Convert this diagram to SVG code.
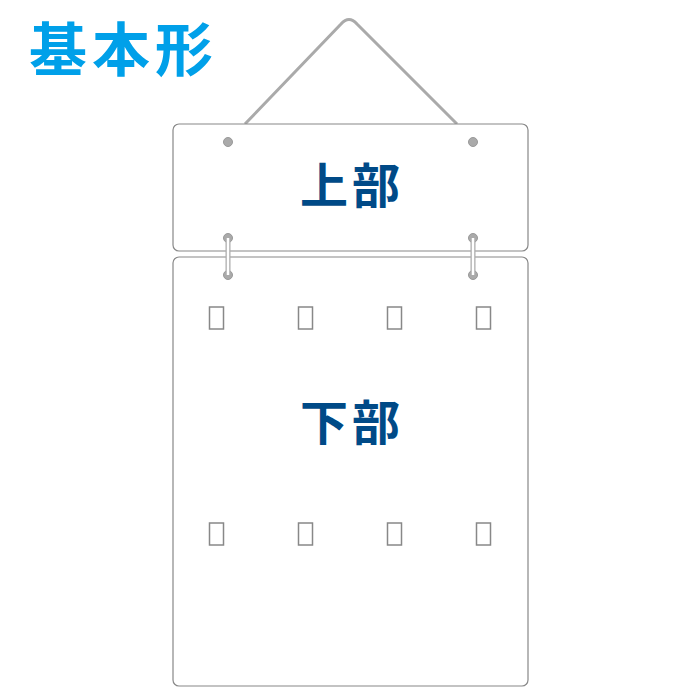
<svg xmlns="http://www.w3.org/2000/svg" width="700" height="700" viewBox="0 0 700 700">
<style>
.panel{fill:#fff;stroke:#888;stroke-width:1.2}
.hole{fill:#aaa;stroke:#999;stroke-width:1}
.box{fill:none;stroke:#888;stroke-width:1.5}
.lbl{font-family:"Noto Sans CJK JP",sans-serif;font-weight:bold;font-size:48px;fill:#004a87;text-anchor:middle;letter-spacing:4px}
.title{font-family:"Noto Sans CJK JP",sans-serif;font-weight:bold;font-size:58px;fill:#00a0e9;letter-spacing:5px}
</style>
<rect width="700" height="700" fill="#fff"/>
<text class="title" x="29" y="71">基本形</text>
<g id="connectors">
<path d="M245,124 L341,24 Q349,15 357,24 L457,124" fill="none" stroke="#aaa" stroke-width="3"/>
</g>
<g id="top-panel">
<rect class="panel" x="173" y="124" width="355" height="127" rx="6"/>
<circle class="hole" cx="228" cy="142" r="4.5"/>
<circle class="hole" cx="473" cy="142" r="4.5"/>
<circle class="hole" cx="228" cy="238" r="4.5"/>
<circle class="hole" cx="473" cy="238" r="4.5"/>
<text class="lbl" x="352" y="203">上部</text>
</g>
<g id="bottom-panel">
<rect class="panel" x="173" y="257" width="355" height="429" rx="6"/>
<circle class="hole" cx="228" cy="275" r="4.5"/>
<circle class="hole" cx="473" cy="275" r="4.5"/>
<rect class="box" x="209.5" y="307" width="14" height="22"/>
<rect class="box" x="298.5" y="307" width="14" height="22"/>
<rect class="box" x="387.5" y="307" width="14" height="22"/>
<rect class="box" x="476.5" y="307" width="14" height="22"/>
<rect class="box" x="209.5" y="523" width="14" height="22"/>
<rect class="box" x="298.5" y="523" width="14" height="22"/>
<rect class="box" x="387.5" y="523" width="14" height="22"/>
<rect class="box" x="476.5" y="523" width="14" height="22"/>
<text class="lbl" x="352" y="440">下部</text>
</g>
<g id="rings">
<line x1="228" y1="238" x2="228" y2="275" stroke="#aaa" stroke-width="5"/>
<line x1="228" y1="238" x2="228" y2="275" stroke="#fff" stroke-width="2.5"/>
<line x1="473" y1="238" x2="473" y2="275" stroke="#aaa" stroke-width="5"/>
<line x1="473" y1="238" x2="473" y2="275" stroke="#fff" stroke-width="2.5"/>
</g>
</svg>
